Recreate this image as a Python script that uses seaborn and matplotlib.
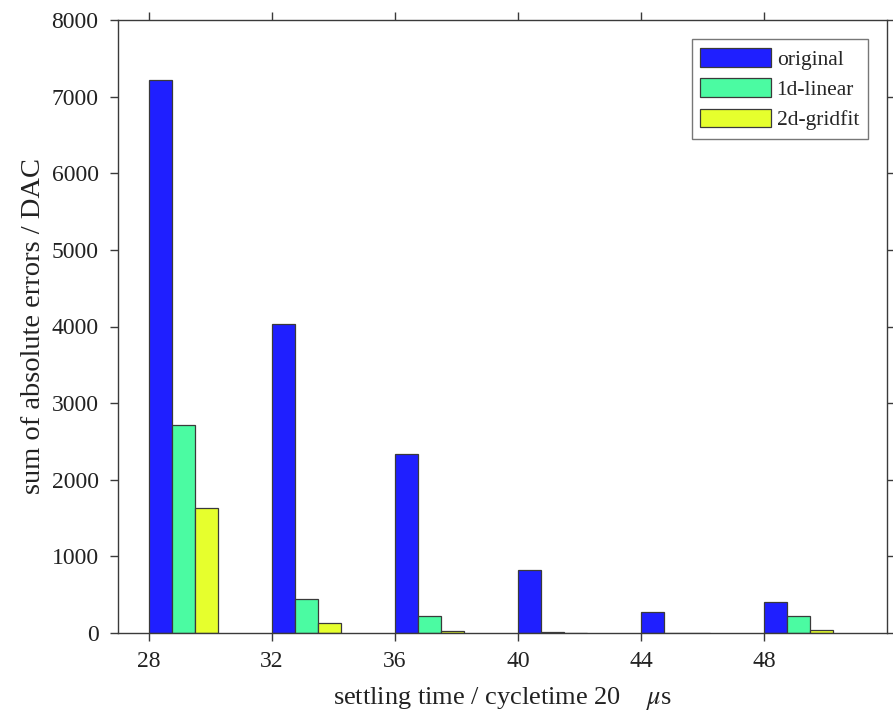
import numpy as np
import pandas as pd
import matplotlib
matplotlib.use("Agg")
import matplotlib.pyplot as plt
from matplotlib.patches import Patch
import seaborn as sns

# Settling times (in cycles) and the summed absolute error per correction method
settling_time = [28, 32, 36, 40, 44, 48]
methods = ["original", "1d-linear", "2d-gridfit"]
err_original = [7220, 4030, 2330, 825, 270, 400]
err_1d_linear = [2710, 440, 220, 12, 6, 220]
err_2d_gridfit = [1630, 125, 25, 6, 4, 40]

colors = ["#1f1fff", "#4bfba2", "#e6ff2d"]
edge = "#3a3a3a"

sns.set_style("ticks")
plt.rcParams["font.family"] = ["Liberation Serif", "DejaVu Serif"]
plt.rcParams["mathtext.fontset"] = "stix"

# Bars are laid out with each group starting at its settling time
bar_width = 0.75
group_shift = bar_width * len(methods) / 2

rows = []
for m, vals in zip(methods, [err_original, err_1d_linear, err_2d_gridfit]):
    for t, v in zip(settling_time, vals):
        rows.append({"position": t + group_shift, "method": m, "error": v})
df = pd.DataFrame(rows)

fig = plt.figure(figsize=(8.93, 7.19), dpi=100)
ax = fig.add_axes([118 / 893, 86 / 719, (887 - 118) / 893, (633 - 20) / 719])

step = np.min(np.diff(settling_time))
sns.barplot(
    data=df, x="position", y="error", hue="method", hue_order=methods,
    native_scale=True, width=bar_width * len(methods) / step,
    palette=colors, saturation=1, edgecolor=edge, linewidth=0.9,
    legend=False, ax=ax,
)

ax.set_xlim(27, 52)
ax.set_ylim(0, 8000)
ax.set_xticks(settling_time)
ax.set_xticklabels([str(t) for t in settling_time])
ax.set_yticks(np.arange(0, 8001, 1000))

for s in ax.spines.values():
    s.set_visible(True)
    s.set_color(edge)
    s.set_linewidth(1.0)
ax.tick_params(direction="out", length=6, width=1.0, color=edge,
               top=True, right=True, labeltop=False, labelright=False,
               labelsize=17, labelcolor="#222222")
ax.tick_params(axis="y", pad=8)
ax.tick_params(axis="x", pad=7)

ax.set_xlabel(r"settling time / cycletime 20    $\mu$s", fontsize=19, color="#222222", labelpad=9)
ax.set_ylabel("sum of absolute errors / DAC", fontsize=20.5, color="#222222", labelpad=4)

handles = [Patch(facecolor=c, edgecolor=edge, linewidth=0.9) for c in colors]
leg = ax.legend(handles, methods, loc="upper right", fontsize=15.5,
                frameon=True, fancybox=False, edgecolor="#555555",
                handlelength=3.3, handleheight=0.95, handletextpad=0.25,
                labelspacing=0.4, borderpad=0.4, borderaxespad=0.9)
leg.get_frame().set_linewidth(1.0)

fig.savefig("out.png", dpi=100)
